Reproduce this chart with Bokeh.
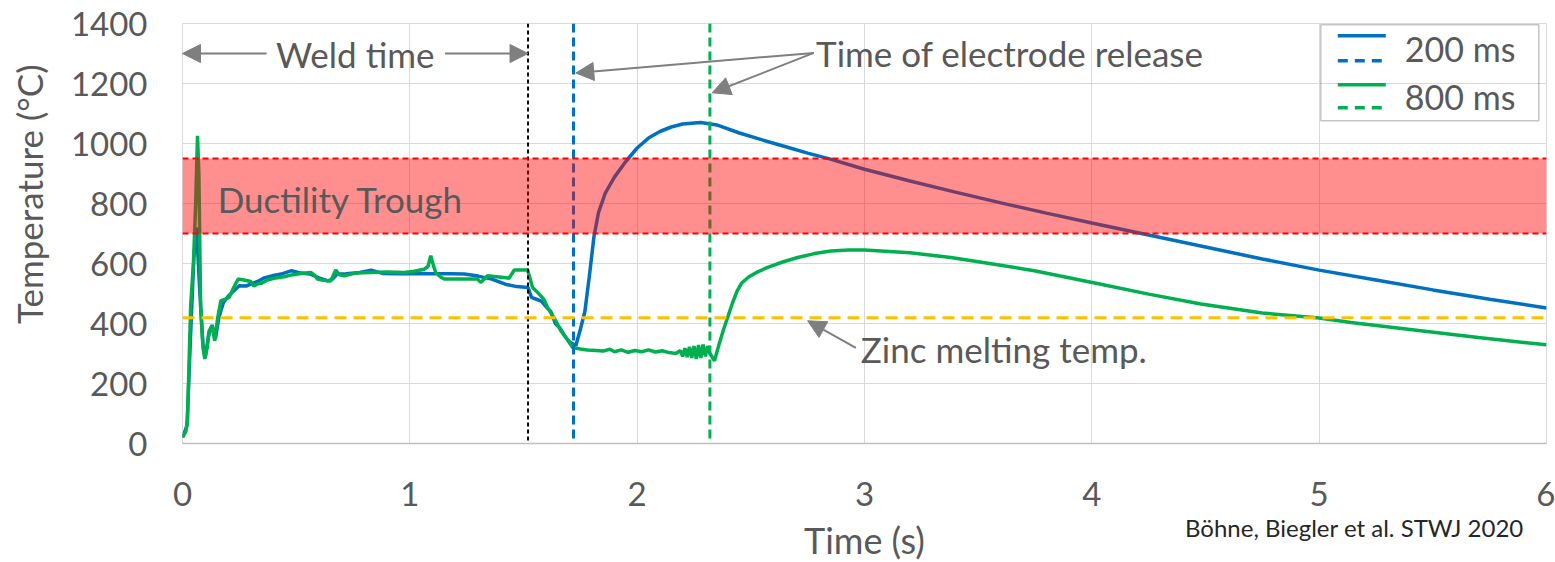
from math import pi
from bokeh.plotting import figure
from bokeh.models import (Span, BoxAnnotation, Label, Arrow, NormalHead, Range1d,
                          LinearAxis, FixedTicker)
from bokeh.embed import file_html
from bokeh.resources import INLINE

# ---------------- data ----------------
time_200 = [0.0, 0.02, 0.035, 0.05, 0.062, 0.075, 0.09, 0.1, 0.115, 0.13, 0.145, 0.16, 0.18, 0.2,
            0.22, 0.25, 0.28, 0.3, 0.33, 0.36, 0.4, 0.44, 0.48, 0.52, 0.56, 0.6, 0.64, 0.66, 0.68,
            0.72, 0.78, 0.83, 0.88, 0.95, 1.03, 1.1, 1.18, 1.24, 1.3, 1.36, 1.42, 1.47, 1.52,
            1.535, 1.56, 1.58, 1.6, 1.62, 1.64, 1.66, 1.68, 1.7, 1.73, 1.75, 1.77, 1.79, 1.81,
            1.83, 1.86, 1.9, 1.95, 2.0, 2.05, 2.1, 2.15, 2.2, 2.28, 2.35, 2.45, 2.55, 2.65, 2.75,
            2.85, 3.0, 3.2, 3.4, 3.6, 3.8, 4.0, 4.25, 4.5, 4.75, 5.0, 5.25, 5.5, 5.75, 6.0]
temp_200 = [20, 60, 350, 620, 720, 520, 330, 285, 360, 395, 350, 420, 470, 490,
            505, 526, 525, 531, 540, 552, 560, 566, 576, 568, 565, 552, 542, 548, 565,
            566, 570, 578, 567, 566, 567, 566, 566, 565, 558, 548, 531, 523, 520,
            487, 480, 474, 455, 440, 400, 385, 360, 340, 326, 380, 440, 560, 690,
            770, 835, 888, 940, 985, 1018, 1040, 1055, 1065, 1070, 1062, 1035, 1012, 990, 968,
            948, 914, 875, 838, 802, 768, 735, 695, 655, 615, 578, 545, 512, 481, 452]

time_800 = [0.0, 0.015, 0.022, 0.03, 0.036, 0.048, 0.058, 0.066, 0.072, 0.08, 0.09, 0.098, 0.108,
            0.117, 0.13, 0.142, 0.155, 0.169, 0.185, 0.205, 0.225, 0.245, 0.27, 0.3, 0.314, 0.33,
            0.35, 0.374, 0.41, 0.447, 0.48, 0.52, 0.564, 0.58, 0.594, 0.62, 0.652, 0.674, 0.69,
            0.711, 0.76, 0.828, 0.9, 0.975, 1.02, 1.063, 1.08, 1.092, 1.105, 1.114, 1.135, 1.151,
            1.22, 1.298, 1.312, 1.342, 1.38, 1.415, 1.437, 1.459, 1.49, 1.518, 1.54, 1.569, 1.59,
            1.606, 1.625, 1.642, 1.664, 1.69, 1.716, 1.75, 1.78, 1.82, 1.85, 1.88, 1.9, 1.93, 1.96,
            1.99, 2.02, 2.05, 2.08, 2.11, 2.14, 2.17, 2.19, 2.2, 2.21, 2.22, 2.23, 2.24, 2.25, 2.26,
            2.27, 2.28, 2.29, 2.3, 2.31, 2.32, 2.34, 2.36, 2.38, 2.4, 2.42, 2.44, 2.46, 2.49, 2.53,
            2.574, 2.64, 2.706, 2.78, 2.852, 2.93, 3.0, 3.2, 3.38, 3.55, 3.747, 4.04, 4.25, 4.48,
            4.75, 5.0, 5.14, 5.4, 5.7, 6.0]
temp_800 = [20, 40, 80, 300, 460, 600, 800, 1026, 900, 450, 320, 282, 320,
            375, 392, 342, 420, 476, 480, 487, 520, 548, 545, 540, 525, 532,
            535, 545, 552, 556, 562, 567, 570, 562, 548, 544, 542, 578, 562,
            559, 568, 570, 572, 570, 574, 581, 590, 626, 590, 570, 555, 548,
            548, 548, 537, 559, 556, 553, 551, 578, 578, 578, 520, 498, 480,
            453, 430, 409, 376, 350, 320, 315, 312, 310, 308, 314, 306, 312, 304,
            310, 306, 312, 305, 309, 303, 300, 310, 290, 318, 288, 322, 285, 325, 282,
            328, 285, 330, 290, 325, 300, 276, 330, 380, 425, 470, 509, 535, 555, 572,
            587, 605, 620, 633, 642, 645, 645, 636, 620, 600, 576, 531, 498, 465,
            435, 418, 403, 380, 353, 329]

series_labels = ["200 ms", "800 ms"]
x_ticks = [0, 1, 2, 3, 4, 5, 6]
y_ticks = [0, 200, 400, 600, 800, 1000, 1200, 1400]
weld_end = 1.52
release_times = [1.72, 2.32]
zinc_melt = 419
trough = [700, 950]
y_title = "Temperature (°C)"
x_title = "Time (s)"
citation = "Böhne, Biegler et al. STWJ 2020"

# ---------------- style ----------------
FONT = "Lato"
GRAY_TXT = "#595959"
ARROW_C = "#7f7f7f"
BLUE = "#0070c0"
GREEN = "#00b050"

p = figure(frame_width=1364, frame_height=420,
           x_range=Range1d(0, 6), y_range=Range1d(0, 1400),
           output_backend="svg", toolbar_location=None,
           min_border_left=182, min_border_right=9, min_border_top=23, min_border_bottom=119,
           background_fill_color="white", border_fill_color="white")

p.outline_line_color = "#d9d9d9"
p.xaxis.ticker = x_ticks
p.yaxis.ticker = y_ticks
p.xgrid.ticker = x_ticks
p.ygrid.ticker = y_ticks
p.grid.grid_line_color = "#d9d9d9"
p.grid.grid_line_width = 1


def plain_axis(ax, size):
    ax.major_tick_line_color = None
    ax.minor_tick_line_color = None
    ax.major_tick_out = 0
    ax.major_tick_in = 0
    ax.major_label_text_font = FONT
    ax.major_label_text_font_size = size
    ax.major_label_text_color = GRAY_TXT


for ax in (p.xaxis[0], p.yaxis[0]):
    plain_axis(ax, "33px")
p.yaxis.axis_line_color = None
p.xaxis.axis_line_color = "#bfbfbf"
p.xaxis.axis_line_width = 1.5
p.yaxis.major_label_standoff = 35
p.xaxis.major_label_standoff = 38
p.xaxis.axis_label = x_title
p.xaxis.axis_label_text_font = FONT
p.xaxis.axis_label_text_font_size = "36px"
p.xaxis.axis_label_text_font_style = "normal"
p.xaxis.axis_label_text_color = GRAY_TXT
p.xaxis.axis_label_standoff = 9

# y-axis title (placed off-centre as in the original) via a label-only axis
y_title_pos = 831
yt_axis = LinearAxis(ticker=FixedTicker(ticks=[y_title_pos]),
                     major_label_overrides={y_title_pos: y_title},
                     major_label_orientation="vertical", axis_line_color=None)
plain_axis(yt_axis, "35px")
yt_axis.major_label_standoff = 17
p.add_layout(yt_axis, "left")

# citation via a label-only axis below
cite_pos = 5.155
ct_axis = LinearAxis(ticker=FixedTicker(ticks=[cite_pos]),
                     major_label_overrides={cite_pos: citation}, axis_line_color=None)
plain_axis(ct_axis, "24px")
ct_axis.major_label_text_color = "#262626"
ct_axis.major_label_standoff = -52
p.add_layout(ct_axis, "below")

# curves
p.line(time_200, temp_200, line_color=BLUE, line_width=3.5)
p.line(time_800, temp_800, line_color=GREEN, line_width=3.5)

# vertical markers
p.add_layout(Span(location=weld_end, dimension="height", line_color="black",
                  line_width=2, line_dash="4 3"))
for t, c in zip(release_times, [BLUE, GREEN]):
    p.add_layout(Span(location=t, dimension="height", line_color=c,
                      line_width=3, line_dash="9 5"))

# zinc melting line
p.add_layout(Span(location=zinc_melt, dimension="width", line_color="#ffc000",
                  line_width=3, line_dash="12 7"))

# ductility trough band
p.add_layout(BoxAnnotation(bottom=trough[0], top=trough[1], fill_color="#ff0000",
                           fill_alpha=0.44, line_color=None))
for v in trough:
    p.add_layout(Span(location=v, dimension="width", line_color="#ff0000",
                      line_width=2, line_dash="6 4"))


def lab(**kw):
    base = dict(text_font=FONT, text_font_size="35px", text_color=GRAY_TXT)
    base.update(kw)
    p.add_layout(Label(**base))


lab(x=0.155, y=815, text="Ductility Trough", text_baseline="middle", text_align="left")
lab(x=weld_end / 2, y=1300, text="Weld time", text_baseline="middle", text_align="center")
lab(x=2.787, y=1302, text="Time of electrode release", text_baseline="middle", text_align="left")
lab(x=2.984, y=316, text="Zinc melting temp.", text_baseline="middle", text_align="left")


def arrow(x0, y0, x1, y1):
    p.add_layout(Arrow(x_start=x0, y_start=y0, x_end=x1, y_end=y1,
                       line_color=ARROW_C, line_width=2,
                       end=NormalHead(size=18, fill_color=ARROW_C, line_color=ARROW_C)))


arrow(0.37, 1300, 0.0, 1300)
arrow(1.155, 1300, weld_end, 1300)
arrow(2.777, 1302, release_times[0] + 0.01, 1235)
arrow(2.777, 1302, release_times[1] + 0.01, 1169)
arrow(2.962, 319, 2.75, 409)

# legend (manual, two line styles per series)
p.add_layout(BoxAnnotation(left=1138.3, right=1356.3, bottom=322.7, top=418.7,
                           left_units="screen", right_units="screen",
                           top_units="screen", bottom_units="screen",
                           fill_alpha=0, line_color="#404040", line_width=1.5))
leg_rows = [(407.7, 382.7, 394.7), (358.7, 335.7, 346.7)]
for (ys, yd, yt), c, name in zip(leg_rows, [BLUE, GREEN], series_labels):
    p.add_layout(Arrow(x_start=1155.3, y_start=ys, x_end=1203.3, y_end=ys,
                       start_units="screen", end_units="screen", end=None,
                       line_color=c, line_width=3.5))
    p.add_layout(Arrow(x_start=1155.3, y_start=yd, x_end=1203.3, y_end=yd,
                       start_units="screen", end_units="screen", end=None,
                       line_color=c, line_width=3.5, line_dash="10 7"))
    lab(x=1222.3, y=yt, x_units="screen", y_units="screen", text=name,
        text_align="left", text_baseline="middle", text_font_size="34px")

open("out.html", "w").write(file_html(p, INLINE))
